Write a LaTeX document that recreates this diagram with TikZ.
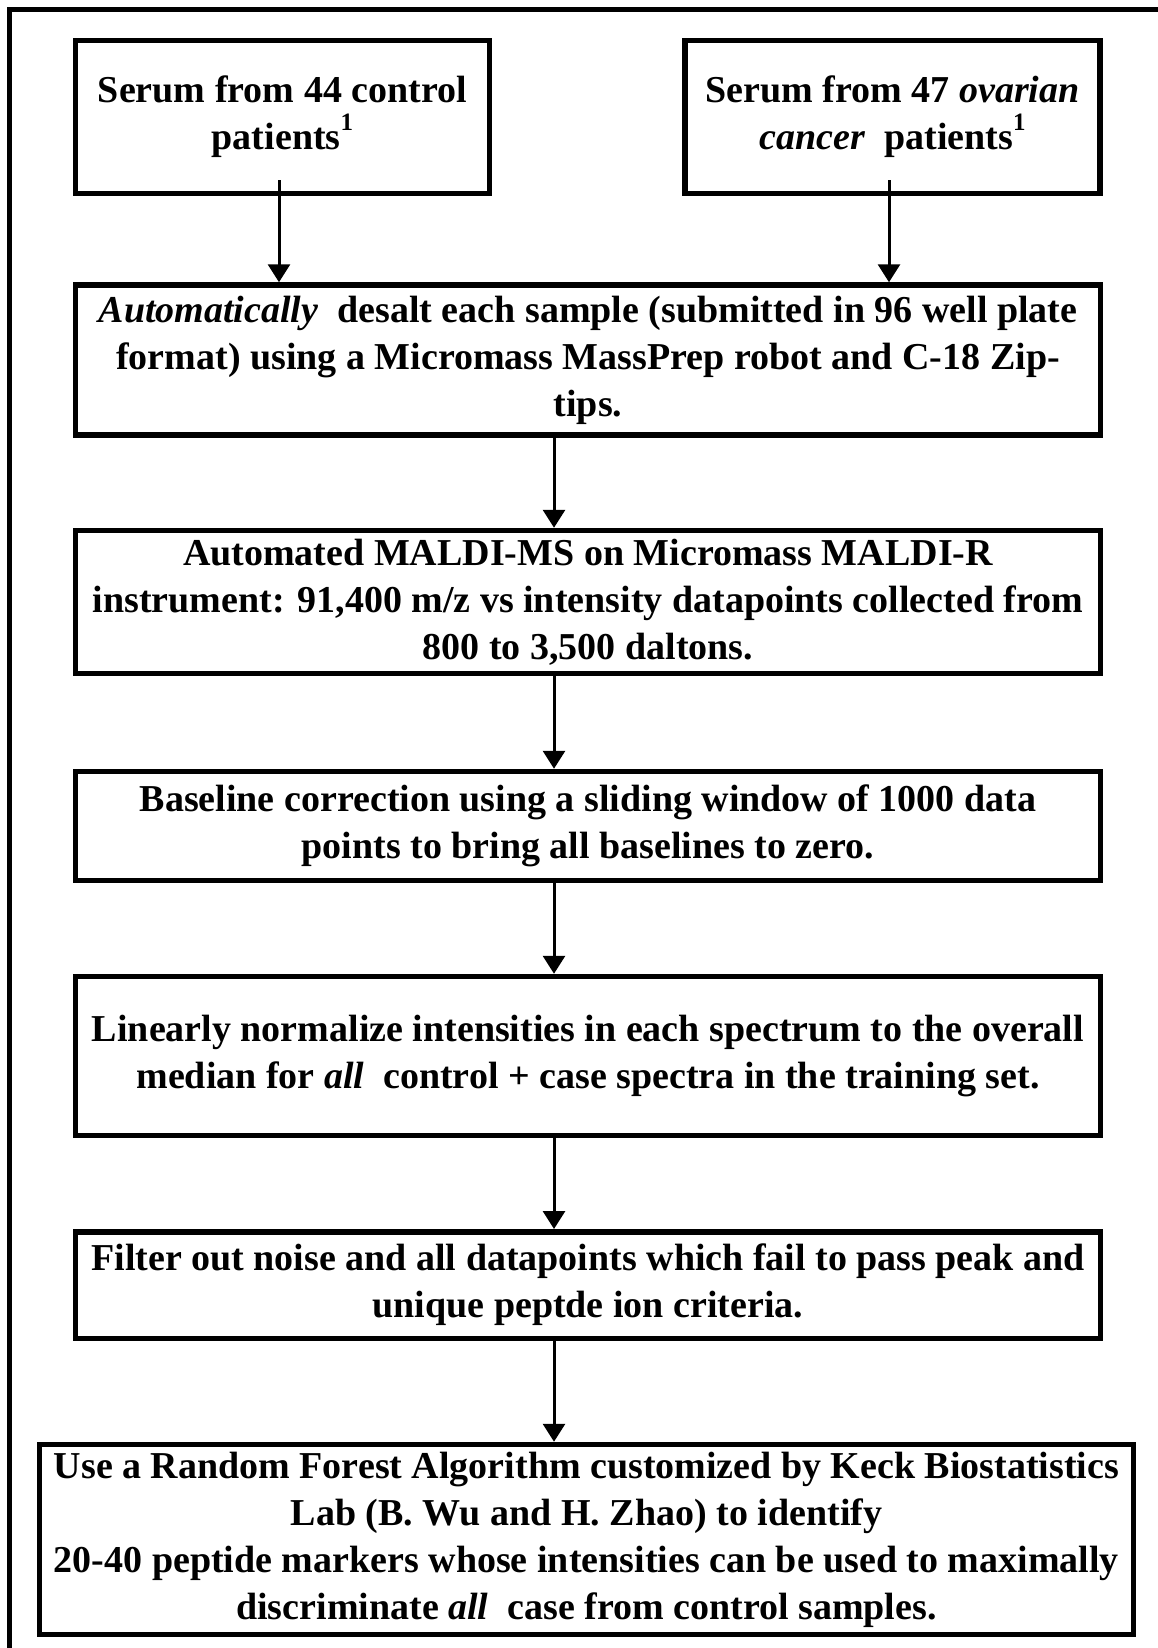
\documentclass[tikz,border=0pt]{standalone}
\usepackage{fontspec}
\setmainfont{Liberation Serif}
\usetikzlibrary{arrows.meta}
\newcommand{\notemark}{\raisebox{19pt}{\fontsize{25}{25}\selectfont 1}}
\tikzset{
    stage/.style={draw=black, line width=5.5pt, inner sep=0pt, align=center,
        font=\fontsize{38}{47}\selectfont\bfseries},
    flow/.style={line width=3pt, -{Triangle[width=22pt,length=18pt]}}
}
\begin{document}
\begin{tikzpicture}[x=1pt,y=-1pt]
    \path[use as bounding box, fill=white] (0,0) rectangle (1158,1648);
    \clip (0,0) rectangle (1158,1648);
    \draw[line width=5.5pt] (9.5,1700) -- (9.5,9.5) -- (1200,9.5);

    \node[stage, minimum width=414pt, minimum height=153pt] (control) at (282.5,117) {Serum from 44 control\\patients\notemark};
    \node[stage, minimum width=415pt, minimum height=153pt] (ovarian) at (892.5,117) {Serum from 47 \textit{ovarian}\\\textit{cancer}~ patients\notemark};
    \node[stage, minimum width=1025pt, minimum height=150pt] (desalt) at (588,360) {\textit{Automatically}~ desalt each sample (submitted in 96 well plate\\format) using a Micromass MassPrep robot and C-18 Zip-\\tips.};
    \node[stage, minimum width=1025pt, minimum height=143pt] (maldi) at (588,602) {Automated MALDI-MS on Micromass MALDI-R\\instrument: 91,400 m/z vs intensity datapoints collected from\\800 to 3,500 daltons.};
    \node[stage, minimum width=1025pt, minimum height=109pt] (baseline) at (588,826) {Baseline correction using a sliding window of 1000 data\\points to bring all baselines to zero.};
    \node[stage, minimum width=1025pt, minimum height=159pt] (normalize) at (588,1056) {Linearly normalize intensities in each spectrum to the overall\\median for \textit{all}~ control + case spectra in the training set.};
    \node[stage, minimum width=1025pt, minimum height=106.5pt] (filter) at (588,1285) {Filter out noise and all datapoints which fail to pass peak and\\unique peptde ion criteria.};
    \node[stage, minimum width=1094pt, minimum height=190pt] (forest) at (586.5,1539.5) {Use a Random Forest Algorithm customized by Keck Biostatistics\\Lab (B. Wu and H. Zhao) to identify\\20-40 peptide markers whose intensities can be used to maximally\\discriminate \textit{all}~ case from control samples.};

    \coordinate (c1) at ([xshift=-3.5pt,yshift=16pt]control.south);
    \coordinate (c2) at ([xshift=-3.5pt,yshift=16pt]ovarian.south);
    \coordinate (spine) at (554,0);
    \draw[flow] (c1) -- (c1 |- desalt.north);
    \draw[flow] (c2) -- (c2 |- desalt.north);
    \foreach \a/\b in {desalt/maldi, maldi/baseline, baseline/normalize, normalize/filter, filter/forest}{
    \draw[flow] (\a.south -| spine) -- (\b.north -| spine);
    }
\end{tikzpicture}
\end{document}
